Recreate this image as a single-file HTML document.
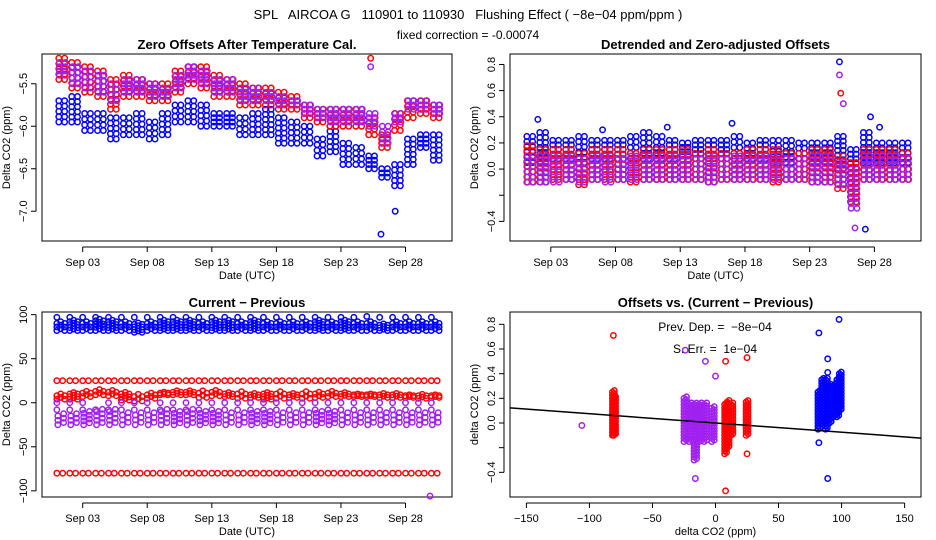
<!DOCTYPE html>
<html><head><meta charset="utf-8"><style>
body{margin:0;background:#fff;}
svg{display:block;font-family:"Liberation Sans",sans-serif;}
.tt{font-weight:bold;font-size:13px;}
.tk{font-size:11px;}
.pre{white-space:pre;}
</style></head><body>
<svg id="c" width="936" height="540" xmlns="http://www.w3.org/2000/svg">
<rect width="936" height="540" fill="#fff"/>
<text class="pre" x="468" y="19" text-anchor="middle" font-size="13">SPL   AIRCOA G   110901 to 110930   Flushing Effect ( −8e−04 ppm/ppm )</text>
<text x="468" y="39" text-anchor="middle" font-size="12">fixed correction = -0.00074</text>
</svg>
<script>
const days=[1,2,3,4,5,6,7,8,9,10,11,12,13,14,15,16,17,18,19,20,21,22,23,24,25,26,27,28,29,30];
const tlBlueHi=[-5.7,-5.65,-5.85,-5.85,-5.9,-5.9,-5.85,-5.95,-5.85,-5.75,-5.7,-5.75,-5.85,-5.85,-5.9,-5.85,-5.8,-5.9,-5.95,-6.0,-6.15,-6.0,-6.2,-6.25,-6.35,-6.5,-6.45,-6.15,-6.1,-6.1];
const tlBlueLo=[-5.95,-5.95,-6.05,-6.05,-6.15,-6.1,-6.1,-6.15,-6.1,-5.95,-5.95,-6.0,-6.0,-6.0,-6.1,-6.1,-6.1,-6.2,-6.2,-6.2,-6.35,-6.3,-6.45,-6.45,-6.5,-6.6,-6.7,-6.45,-6.25,-6.4];
const tlRedHi=[-5.2,-5.25,-5.3,-5.35,-5.45,-5.4,-5.45,-5.5,-5.5,-5.35,-5.3,-5.3,-5.4,-5.45,-5.5,-5.55,-5.55,-5.6,-5.65,-5.75,-5.8,-5.8,-5.8,-5.8,-5.9,-6.1,-5.85,-5.7,-5.7,-5.75];
const tlRedLo=[-5.45,-5.55,-5.6,-5.65,-5.8,-5.65,-5.65,-5.7,-5.7,-5.6,-5.5,-5.55,-5.65,-5.65,-5.75,-5.75,-5.75,-5.8,-5.8,-5.9,-5.95,-6.0,-6.0,-6.0,-6.1,-6.25,-6.05,-5.9,-5.85,-5.9];
const tlPurHi=[-5.25,-5.3,-5.35,-5.4,-5.5,-5.45,-5.45,-5.5,-5.55,-5.4,-5.3,-5.35,-5.45,-5.45,-5.55,-5.55,-5.6,-5.65,-5.7,-5.75,-5.8,-5.8,-5.8,-5.8,-5.85,-6.0,-5.85,-5.7,-5.7,-5.75];
const tlPurLo=[-5.4,-5.5,-5.55,-5.6,-5.7,-5.6,-5.6,-5.65,-5.65,-5.55,-5.45,-5.5,-5.6,-5.6,-5.7,-5.7,-5.7,-5.75,-5.75,-5.85,-5.9,-5.95,-5.95,-5.95,-6.0,-6.2,-5.95,-5.8,-5.8,-5.85];
const trBlueHi=[0.25,0.28,0.22,0.22,0.25,0.22,0.22,0.22,0.25,0.28,0.25,0.22,0.2,0.22,0.22,0.22,0.25,0.2,0.22,0.22,0.22,0.2,0.2,0.2,0.25,0.15,0.28,0.2,0.2,0.2];
const trBlueLo=[0.05,0.05,0.08,0.08,0.05,0.08,0.08,0.08,0.08,0.08,0.08,0.08,0.1,0.08,0.08,0.08,0.08,0.08,0.08,0.05,0.05,0.08,0.05,0.05,0.0,-0.1,0.05,0.05,0.05,0.05];
const trRedHi=[0.18,0.15,0.15,0.15,0.12,0.15,0.15,0.15,0.12,0.15,0.15,0.15,0.15,0.12,0.15,0.12,0.12,0.15,0.15,0.15,0.12,0.12,0.15,0.15,0.1,0.05,0.15,0.15,0.15,0.12];
const trRedLo=[-0.1,-0.1,-0.08,-0.08,-0.12,-0.08,-0.08,-0.08,-0.1,-0.08,-0.08,-0.08,-0.08,-0.08,-0.1,-0.08,-0.08,-0.08,-0.08,-0.1,-0.08,-0.08,-0.1,-0.1,-0.15,-0.25,-0.08,-0.08,-0.08,-0.08];
const trPurHi=[0.1,0.1,0.1,0.1,0.08,0.1,0.1,0.08,0.1,0.1,0.1,0.1,0.1,0.08,0.1,0.08,0.1,0.1,0.1,0.1,0.08,0.08,0.1,0.1,0.05,0.0,0.1,0.1,0.1,0.08];
const trPurLo=[-0.1,-0.1,-0.1,-0.08,-0.1,-0.08,-0.1,-0.08,-0.08,-0.08,-0.08,-0.08,-0.08,-0.08,-0.1,-0.08,-0.08,-0.08,-0.08,-0.08,-0.08,-0.08,-0.1,-0.1,-0.12,-0.3,-0.08,-0.08,-0.08,-0.08];
const trOutDay=[2,7,12,17,25.3,25.3,25.4,25.6,26.5,27.3,27.7,28.4];
const trOutY=[0.38,0.3,0.32,0.35,0.82,0.72,0.58,0.5,-0.45,-0.46,0.4,0.32];
const trOutC=["b","b","b","b","b","p","r","p","p","b","b","b"];
const blBlueHi=[90,92,90,93,92,90,89,90,92,92,92,90,92,92,90,92,90,90,90,90,92,90,92,90,90,88,90,90,90,90];
const blBlueLo=[82,82,82,82,82,82,80,82,82,82,82,82,82,82,82,82,82,82,82,82,82,82,82,82,82,82,82,82,82,82];
const blBlueTop=[97,97,97,97,97,97,97,97,97,97,97,97,97,97,97,97,97,97,97,97,97,97,97,97,98,97,97,97,97,97];
const blRedRow=[25,25,25,25,25,25,25,25,25,25,25,25,25,25,25,25,25,25,25,25,25,25,25,25,25,25,25,25,25,25];
const blRedHi=[8,10,11,13,12,10,7,9,11,12,12,11,12,10,10,9,10,10,9,10,10,11,10,9,9,9,9,8,8,8];
const blRedLo=[4,4,7,9,8,3,2,5,9,9,9,6,8,7,5,6,4,5,6,5,6,7,7,7,7,6,6,6,5,6];
const blPurHi=[-15,-15,-12,-10,-10,-14,-14,-14,-10,-12,-10,-12,-12,-14,-14,-12,-12,-14,-14,-14,-12,-12,-14,-14,-14,-14,-14,-14,-14,-14];
const blPurLo=[-25,-25,-25,-25,-25,-25,-25,-25,-25,-25,-25,-25,-25,-25,-25,-25,-25,-25,-25,-25,-25,-25,-25,-25,-25,-25,-25,-25,-25,-25];
const blPurTop=[0,0,0,-8,0,0,0,0,0,0,0,0,0,0,0,0,0,0,0,0,0,0,0,0,0,0,0,0,0,0];
const blRedLow=[-80,-80,-80,-80,-80,-80,-80,-80,-80,-80,-80,-80,-80,-80,-80,-80,-80,-80,-80,-80,-80,-80,-80,-80,-80,-80,-80,-80,-80,-80];
const brRedX=[-81,-80,8,10,13,25];
const brRedLo=[-0.1,-0.1,-0.25,-0.2,-0.1,-0.1];
const brRedHi=[0.25,0.2,0.15,0.17,0.15,0.17];
const brPurX=[-24,-20,-16,-12,-8,-2];
const brPurLo=[-0.15,-0.15,-0.3,-0.15,-0.15,-0.15];
const brPurHi=[0.2,0.15,0.15,0.15,0.15,0.12];
const brBlueX=[82,85,88,91,94,97,99];
const brBlueLo=[-0.05,0.0,-0.05,0.0,0.05,0.05,0.1];
const brBlueHi=[0.25,0.35,0.35,0.3,0.3,0.35,0.4];
const brOutX=[-81,-24,-8,0,8,25,25,8,82,89,89,98,82,89,-106,-16];
const brOutY=[0.71,0.59,0.5,0.38,0.5,0.53,-0.25,-0.55,0.73,0.52,-0.45,0.84,-0.16,0.41,-0.02,-0.45];
const brOutC=["r","p","p","p","r","r","r","r","b","b","b","b","b","b","p","p"];
const slope=-0.00075, intercept=0.0;
const dateTicks=[3,8,13,18,23,28];
const dateLabels=["Sep 03","Sep 08","Sep 13","Sep 18","Sep 23","Sep 28"];

const NS="http://www.w3.org/2000/svg";
const svg=document.getElementById('c');
const COL={b:"#0000ff",r:"#ff0000",p:"#a020f0"};
function mk(tag,attrs,parent){const e=document.createElementNS(NS,tag);for(const k in attrs)e.setAttribute(k,attrs[k]);(parent||svg).appendChild(e);return e;}

function panel(name,box,xr,yr,title,xlab,ylab,yticks,ylabels,xticks,xlabels){
  const g=mk('g',{});
  
  
  const sx=v=>box[0]+(v-xr[0])/(xr[1]-xr[0])*(box[2]-box[0]);
  const sy=v=>box[3]-(v-yr[0])/(yr[1]-yr[0])*(box[3]-box[1]);
  const fr=mk('rect',{x:box[0],y:box[1],width:box[2]-box[0],height:box[3]-box[1],fill:'none',stroke:'#000','stroke-width':1},g);
  
  
  const t=mk('text',{x:(box[0]+box[2])/2,y:box[1]-5,'text-anchor':'middle',class:'tt'},g);t.textContent=title;
  
  
  const xa=mk('g',{},g);
  
  
  const ya=mk('g',{},g);
  
  
  mk('line',{x1:box[0]-6,x2:box[0]-6,y1:sy(yticks[0]),y2:sy(yticks[yticks.length-1]),stroke:'#000'},ya);
  yticks.forEach((v,i)=>{const y=sy(v);mk('line',{x1:box[0]-6,x2:box[0]-11,y1:y,y2:y,stroke:'#000'},ya);
    if(ylabels[i]!==''){const tx=mk('text',{x:box[0]-15,y:y,'text-anchor':'middle',class:'tk',transform:`rotate(-90 ${box[0]-15} ${y})`},ya);tx.textContent=ylabels[i];
    
    }});
  mk('line',{y1:box[3]+6,y2:box[3]+6,x1:sx(xticks[0]),x2:sx(xticks[xticks.length-1]),stroke:'#000'},xa);
  xticks.forEach((v,i)=>{const x=sx(v);mk('line',{y1:box[3]+6,y2:box[3]+11,x1:x,x2:x,stroke:'#000'},xa);
    const tx=mk('text',{x:x,y:box[3]+25,'text-anchor':'middle',class:'tk'},xa);tx.textContent=xlabels[i];
    
    });
  const xl=mk('text',{x:(box[0]+box[2])/2,y:box[3]+38,'text-anchor':'middle',class:'tk'},g);xl.textContent=xlab;
  
  
  const yx=box[0]-32, ym=(box[1]+box[3])/2;
  const yl=mk('text',{x:yx,y:ym,'text-anchor':'middle',class:'tk',transform:`rotate(-90 ${yx} ${ym})`},g);yl.textContent=ylab;
  
  
  const pts=mk('g',{},g);
  
  
  return {sx,sy,g:pts,box};
}
function pt(P,x,y,c){const e=mk('circle',{cx:P.sx(x),cy:P.sy(y),r:2.7,fill:'none',stroke:COL[c],'stroke-width':1.5},P.g);
  
  }
function cluster(P,x,lo,hi,c,cols,dx,step){
  const pyLo=P.sy(lo),pyHi=P.sy(hi);const n=Math.max(1,Math.round(Math.abs(pyLo-pyHi)/(step||4)));
  for(let k=0;k<cols;k++){const xx=x+(k-(cols-1)/2)*dx;
    for(let j=0;j<=n;j++){pt(P,xx,lo+(hi-lo)*(j+(k%2)*0.5)/n,c);}}
}
// day clusters drawn as two sub-clusters (twice-daily flushes)
function dayCluster(P,d,lo,hi,c){cluster(P,d+0.15,lo,hi,c,1,0,5);cluster(P,d+0.6,lo,hi,c,1,0,5);}
const dayTick=dateTicks, dayLab=dateLabels;
const TL=panel('zero-offsets-panel',[42,54,452,241],[-0.15,31.6],[-7.35,-5.15],'Zero Offsets After Temperature Cal.','Date (UTC)','Delta CO2 (ppm)',[-7.0,-6.5,-6.0,-5.5],['−7.0','−6.5','−6.0','−5.5'],dayTick,dayLab);
days.forEach((d,i)=>{dayCluster(TL,d,tlBlueLo[i],tlBlueHi[i],'b');dayCluster(TL,d,tlRedLo[i],tlRedHi[i],'r');dayCluster(TL,d+0.05,tlPurLo[i],tlPurHi[i],'p');});
pt(TL,27.2,-7.0,'b');pt(TL,26.1,-7.27,'b');pt(TL,25.3,-5.2,'r');pt(TL,25.3,-5.3,'p');
const TR=panel('detrended-offsets-panel',[510,54,921,241],[-0.15,31.6],[-0.55,0.88],'Detrended and Zero-adjusted Offsets','Date (UTC)','Delta CO2 (ppm)',[-0.4,-0.2,0,0.2,0.4,0.6,0.8],['−0.4','','0.0','0.2','0.4','0.6','0.8'],dayTick,dayLab);
days.forEach((d,i)=>{dayCluster(TR,d,trBlueLo[i],trBlueHi[i],'b');dayCluster(TR,d,trRedLo[i],trRedHi[i],'r');dayCluster(TR,d+0.05,trPurLo[i],trPurHi[i],'p');});
trOutDay.forEach((d,i)=>pt(TR,d,trOutY[i],trOutC[i]));
const BL=panel('current-minus-previous-panel',[42,312,452,497],[-0.15,31.6],[-107,103],'Current − Previous','Date (UTC)','Delta CO2 (ppm)',[-100,-50,0,50,100],['−100','−50','0','50','100'],dayTick,dayLab);
days.forEach((d,i)=>{
  cluster(BL,d+0.3,blBlueLo[i],blBlueHi[i],'b',3,0.3,3);pt(BL,d,blBlueTop[i],'b');
  pt(BL,d,blRedRow[i],'r');pt(BL,d+0.45,blRedRow[i],'r');
  cluster(BL,d+0.3,blRedLo[i],blRedHi[i],'r',3,0.3,3);
  cluster(BL,d+0.3,blPurLo[i],blPurHi[i],'p',2,0.45,4);pt(BL,d,blPurTop[i],'p');pt(BL,d,-8,'p');
  pt(BL,d,blRedLow[i],'r');pt(BL,d+0.45,blRedLow[i],'r');});
pt(BL,29.9,-106,'p');
const BR=panel('offsets-vs-diff-panel',[510,312,921,497],[-163,163],[-0.6,0.9],'Offsets vs. (Current − Previous)','delta CO2 (ppm)','delta CO2 (ppm)',[-0.4,-0.2,0,0.2,0.4,0.6,0.8],['−0.4','','0.0','0.2','0.4','0.6','0.8'],[-150,-100,-50,0,50,100,150],['−150','−100','−50','0','50','100','150']);
brPurX.forEach((x,i)=>cluster(BR,x,brPurLo[i],brPurHi[i],'p',2,2,3));
brRedX.forEach((x,i)=>cluster(BR,x,brRedLo[i],brRedHi[i],'r',2,1.5,3));
brBlueX.forEach((x,i)=>cluster(BR,x,brBlueLo[i],brBlueHi[i],'b',2,1.5,3));
brOutX.forEach((x,i)=>pt(BR,x,brOutY[i],brOutC[i]));
const rl=mk('line',{x1:BR.sx(-163),y1:BR.sy(intercept+slope*-163),x2:BR.sx(163),y2:BR.sy(intercept+slope*163),stroke:'#000','stroke-width':1.5},svg);


const a1=mk('text',{x:715,y:331,'text-anchor':'middle','font-size':12},svg);a1.textContent='Prev. Dep. =  −8e−04';


a1.setAttribute('class','pre');
const a2=mk('text',{x:715,y:353,'text-anchor':'middle','font-size':12},svg);a2.textContent='S. Err. =  1e−04';


a2.setAttribute('class','pre');
</script>
</body></html>
